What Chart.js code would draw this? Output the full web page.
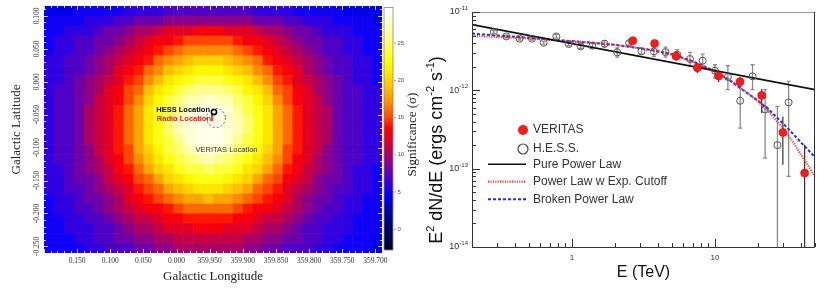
<!DOCTYPE html>
<html>
<head>
<meta charset="utf-8">
<title>Galactic Centre - significance map and spectrum</title>
<script src="https://cdn.jsdelivr.net/npm/chart.js@4.4.1/dist/chart.umd.min.js"></script>
<style>
  body { margin: 0; background: #ffffff; }
  #mapChart { position: absolute; left: 0; top: 0; }
  #sedChart { position: absolute; left: 420px; top: 0; }
</style>
</head>
<body>
<canvas id="mapChart" width="420" height="291"></canvas>
<canvas id="sedChart" width="410" height="291"></canvas>
<script>
"use strict";

/* ---------- left panel: significance map ---------- */

// tick values (longitude is stored as l - 360 for the 359.xxx side)
const lonTicks = [0.15, 0.10, 0.05, 0.00, -0.05, -0.10, -0.15, -0.20, -0.25, -0.30];
const lonTickLabels = ["0.150", "0.100", "0.050", "0.000", "359.950", "359.900", "359.850", "359.800", "359.750", "359.700"];
const latTicks = [0.10, 0.05, 0.00, -0.05, -0.10, -0.15, -0.20, -0.25];
const latTickLabels = ["0.100", "0.050", "0.000", "-0.050", "-0.100", "-0.150", "-0.200", "-0.250"];
const sigmaTicks = [0, 5, 10, 15, 20, 25];

// map grid: first bin edge and bin width in degrees
const mapLonStart = 0.2;
const mapLatStart = 0.115;
const mapBin = 0.015;

// significance per bin, top row first, left column first
const sigmaMap = [
  [4,4,4,5,5,5,5,5,6,6,6,6,7,7,7,7,7,7,7,7,7,6,6,6,6,5,5,5,5,5,4,4,4,4],
  [5,5,5,5,6,6,6,7,7,8,8,8,9,9,9,9,9,9,9,9,9,8,8,8,7,7,6,6,6,5,5,5,5,4],
  [5,5,6,6,6,7,8,8,9,10,10,11,12,12,12,13,13,13,12,12,12,11,10,10,9,8,8,7,6,6,6,5,5,5],
  [5,6,6,7,7,8,8,9,10,11,12,13,13,14,15,15,15,15,15,14,13,13,12,11,10,9,8,8,7,7,6,6,5,5],
  [5,6,6,7,7,8,9,10,11,12,13,14,15,16,17,17,17,17,17,16,15,14,13,12,11,10,9,8,7,7,6,6,5,5],
  [6,6,7,7,8,9,10,11,12,13,14,16,17,18,19,20,20,20,19,18,17,16,14,13,12,11,10,9,8,7,7,6,6,5],
  [6,6,7,7,8,9,10,12,13,14,16,17,19,20,21,22,22,22,21,20,19,17,16,14,13,12,10,9,8,7,7,6,6,5],
  [6,6,7,8,9,10,11,12,14,15,17,19,21,22,23,24,24,24,23,22,21,19,17,15,14,12,11,10,9,8,7,6,6,5],
  [6,7,7,8,9,10,12,13,15,16,19,21,22,24,25,26,26,26,25,24,22,21,19,16,15,13,12,10,9,8,7,7,6,6],
  [6,7,7,8,9,11,12,13,15,17,20,22,24,25,27,27,28,27,27,25,24,22,20,17,15,13,12,11,9,8,7,7,6,6],
  [6,7,7,8,10,11,12,14,16,18,21,23,24,26,28,29,29,29,28,26,24,23,21,18,16,14,12,11,10,8,7,7,6,6],
  [6,7,7,8,10,11,12,14,16,18,21,23,25,27,28,29,29,29,28,27,25,23,21,18,16,14,12,11,10,8,7,7,6,6],
  [6,7,7,8,10,11,12,14,16,18,21,23,25,27,28,29,29,29,28,27,25,23,21,18,16,14,12,11,10,8,7,7,6,6],
  [6,7,7,8,10,11,12,14,16,18,21,23,24,26,28,29,29,29,28,26,24,23,21,18,16,14,12,11,10,8,7,7,6,6],
  [6,7,7,8,9,11,12,14,15,18,20,22,24,25,27,28,28,28,27,25,24,22,20,18,15,14,12,11,9,8,7,7,6,6],
  [6,7,7,8,9,10,12,13,15,17,19,21,23,24,25,26,27,26,25,24,23,21,19,17,15,13,12,10,9,8,7,7,6,6],
  [6,6,7,8,9,10,11,13,14,16,18,20,21,23,24,24,25,24,24,23,21,20,18,16,14,13,11,10,9,8,7,6,6,5],
  [6,6,7,8,8,9,11,12,13,15,16,18,20,21,22,23,23,23,22,21,20,18,16,15,13,12,11,9,8,8,7,6,6,5],
  [6,6,7,7,8,9,10,11,12,14,15,16,18,19,20,21,21,21,20,19,18,16,15,14,12,11,10,9,8,7,7,6,6,5],
  [5,6,6,7,8,8,9,10,12,13,14,15,16,17,18,18,19,18,18,17,16,15,14,13,12,10,9,8,8,7,6,6,5,5],
  [5,6,6,7,7,8,9,10,11,12,13,13,14,15,16,16,16,16,16,15,14,13,13,12,11,10,9,8,7,7,6,6,5,5],
  [5,5,6,6,7,7,8,9,10,11,11,12,13,13,14,14,14,14,14,13,13,12,11,11,10,9,8,7,7,6,6,5,5,5],
  [5,5,6,6,6,7,7,8,9,10,10,11,12,12,12,13,13,13,12,12,12,11,10,10,9,8,7,7,6,6,6,5,5,5],
  [5,5,5,6,6,7,7,8,8,9,9,10,10,11,11,11,11,11,11,11,10,10,9,9,8,8,7,7,6,6,5,5,5,4],
  [5,5,5,5,6,6,7,7,7,8,8,9,9,10,10,10,10,10,10,10,9,9,8,8,7,7,7,6,6,5,5,5,5,4]
];

// source positions (lon as l - 360, lat) and label anchors
const hessPos = { x: -0.0565, y: -0.046 };
const radioPos = { x: -0.0535, y: -0.0535 };
const veritasPos = { x: -0.0595, y: -0.055 };
const veritasRadius = 0.0143;
const hessLabelPos = { x: -0.0505, y: -0.043 };
const radioLabelPos = { x: -0.052, y: -0.0566 };
const veritasLabelPos = { x: -0.0754, y: -0.1036 };

// colour palette of the map
const palValues = [-2.8, 0, 2.5, 4.5, 6, 8, 10, 12, 13.5, 15, 17, 19, 21, 22.5, 25, 27, 29.8];
const palColors = [[0,0,40],[0,0,96],[0,0,170],[0,0,255],[48,0,224],[110,0,170],[170,0,100],[225,0,35],
                   [255,0,0],[255,70,0],[255,140,0],[255,190,0],[255,230,0],[255,255,0],[255,255,110],
                   [255,255,180],[255,255,255]];

/* ---------- right panel: spectrum ---------- */

const hessE  = [0.284, 0.347, 0.430, 0.525, 0.634, 0.777, 0.948, 1.15, 1.39, 1.69, 2.07, 2.51, 3.06,
                3.74, 4.51, 5.45, 6.68, 8.20, 10.0, 12.3, 15.0, 18.3, 22.4, 27.3, 32.7];
const hessF  = [5.55e-12, 4.88e-12, 4.56e-12, 4.56e-12, 4.06e-12, 4.88e-12, 3.90e-12, 3.64e-12, 3.71e-12,
                3.94e-12, 3.05e-12, 4.02e-12, 3.14e-12, 3.14e-12, 3.08e-12, 2.85e-12, 2.51e-12, 2.39e-12,
                1.78e-12, 1.48e-12, 7.36e-13, 1.51e-12, 5.71e-13, 2.00e-13, 7.01e-13];
const hessLo = [5.33e-12, 4.70e-12, 4.39e-12, 4.39e-12, 3.90e-12, 4.65e-12, 3.71e-12, 3.43e-12, 3.47e-12,
                3.57e-12, 2.66e-12, 3.79e-12, 2.90e-12, 2.71e-12, 2.66e-12, 2.46e-12, 2.06e-12, 1.96e-12,
                1.43e-12, 1.02e-12, 3.30e-13, 1.02e-12, 1.36e-13, 1e-15, 7.96e-14];
const hessHi = [5.77e-12, 5.08e-12, 4.74e-12, 4.79e-12, 4.22e-12, 5.18e-12, 4.10e-12, 3.90e-12, 4.02e-12,
                4.30e-12, 3.47e-12, 4.26e-12, 3.43e-12, 3.60e-12, 3.57e-12, 3.30e-12, 3.05e-12, 2.90e-12,
                2.12e-12, 2.06e-12, 1.12e-12, 2.12e-12, 1.02e-12, 6.24e-13, 1.30e-12];

const verE  = [2.66, 3.78, 5.33, 7.52, 10.6, 14.96, 21.2, 29.8, 42.3];
const verF  = [4.30e-12, 3.97e-12, 2.74e-12, 1.94e-12, 1.52e-12, 1.29e-12, 8.62e-13, 2.90e-13, 8.78e-14];
const verLo = [3.94e-12, 3.64e-12, 2.39e-12, 1.66e-12, 1.275e-12, 1.10e-12, 5.12e-13, 1.12e-13, 1e-15];
const verHi = [4.65e-12, 4.30e-12, 3.14e-12, 2.23e-12, 1.80e-12, 1.48e-12, 1.04e-12, 4.65e-13, 2.02e-13];

const pplE = [0.2, 50];
const pplF = [6.9e-12, 1.02e-12];

const ecplE = [0.2, 0.3, 0.5, 0.7, 1, 1.5, 2, 3, 4, 5, 7, 10, 13, 16, 20, 25, 30, 35, 40, 45, 50];
const ecplF = [4.95e-12, 4.8e-12, 4.6e-12, 4.4e-12, 4.2e-12, 4.0e-12, 3.8e-12, 3.45e-12, 3.15e-12, 2.85e-12,
               2.3e-12, 1.72e-12, 1.3e-12, 1.0e-12, 7.2e-13, 4.8e-13, 3.25e-13, 2.2e-13, 1.5e-13, 1.08e-13, 7.9e-14];

const bplE = [0.2, 0.3, 0.5, 0.7, 1, 1.5, 2, 3, 4, 5, 7, 10, 13, 16, 20, 25, 30, 35, 40, 45, 50];
const bplF = [5.3e-12, 5.0e-12, 4.7e-12, 4.45e-12, 4.25e-12, 4.0e-12, 3.8e-12, 3.45e-12, 3.15e-12, 2.9e-12,
              2.35e-12, 1.75e-12, 1.3e-12, 9.8e-13, 7.4e-13, 5.2e-13, 3.75e-13, 2.8e-13, 2.15e-13, 1.72e-13, 1.4e-13];

const sedXTicks = [1, 10];
const sedXTickLabels = ["1", "10"];
const sedYTickExps = [-14, -13, -12, -11];
const legendLabels = ["VERITAS", "H.E.S.S.", "Pure Power Law", "Power Law w Exp. Cutoff", "Broken Power Law"];


function rgbText(c) {
    return "rgb(" + c[0] + "," + c[1] + "," + c[2] + ")";
}

function sigColor(v) {
    let last = palValues.length - 1;
    if (v <= palValues[0]) return rgbText(palColors[0]);
    for (let k = 1; k <= last; k++) {
        if (v <= palValues[k]) {
            let t = (v - palValues[k - 1]) / (palValues[k] - palValues[k - 1]);
            let a = palColors[k - 1], b = palColors[k];
            return rgbText([0, 1, 2].map(n => Math.round(a[n] + (b[n] - a[n]) * t)));
        }
    }
    return rgbText(palColors[last]);
}

function toPoints(xs, ys) {
    return xs.map((x, i) => ({ x: x, y: ys[i] }));
}

// draws the map bins behind everything else
const heatCells = {
    id: "heatCells",
    beforeDatasetsDraw(chart) {
        const ctx = chart.ctx;
        const ca = chart.chartArea;
        const xs = chart.scales.x;
        const ys = chart.scales.y;
        ctx.save();
        ctx.beginPath();
        ctx.rect(ca.left, ca.top, ca.right - ca.left, ca.bottom - ca.top);
        ctx.clip();
        for (let i = 0; i < sigmaMap.length; i++) {
            for (let j = 0; j < sigmaMap[i].length; j++) {
                let x0 = xs.getPixelForValue(mapLonStart - j * mapBin);
                let x1 = xs.getPixelForValue(mapLonStart - (j + 1) * mapBin);
                let y0 = ys.getPixelForValue(mapLatStart - i * mapBin);
                let y1 = ys.getPixelForValue(mapLatStart - (i + 1) * mapBin);
                ctx.fillStyle = sigColor(sigmaMap[i][j]);
                ctx.fillRect(x0, y0, x1 - x0 + 0.6, y1 - y0 + 0.6);
            }
        }
        ctx.restore();
    }
};

// inner ticks, rotated latitude labels, colour bar and source labels
const mapDecor = {
    id: "mapDecor",
    afterDraw(chart) {
        const ctx = chart.ctx;
        const ca = chart.chartArea;
        const xs = chart.scales.x;
        const ys = chart.scales.y;
        const sc = chart.scales.sig;
        ctx.save();

        ctx.strokeStyle = "rgba(225,228,255,0.9)";
        ctx.lineWidth = 1;
        ctx.beginPath();
        for (let k = -31; k <= 20; k++) {
            let px = Math.round(xs.getPixelForValue(k / 100)) + 0.5;
            let len = (k % 5 === 0) ? 4 : 2;
            ctx.moveTo(px, ca.bottom); ctx.lineTo(px, ca.bottom - len);
            ctx.moveTo(px, ca.top); ctx.lineTo(px, ca.top + len);
        }
        for (let k = -26; k <= 11; k++) {
            let py = Math.round(ys.getPixelForValue(k / 100)) + 0.5;
            let len = (k % 5 === 0) ? 4 : 2;
            ctx.moveTo(ca.left, py); ctx.lineTo(ca.left + len, py);
            ctx.moveTo(ca.right, py); ctx.lineTo(ca.right - len, py);
        }
        ctx.stroke();

        // latitude labels, written upwards
        ctx.fillStyle = "#333";
        ctx.font = "7.5px 'Liberation Serif'";
        ctx.textAlign = "center";
        ctx.textBaseline = "middle";
        latTicks.forEach((v, i) => {
            ctx.save();
            ctx.translate(ca.left - 6.5, ys.getPixelForValue(v));
            ctx.rotate(-Math.PI / 2);
            ctx.fillText(latTickLabels[i], 0, 0);
            ctx.restore();
        });

        // colour bar
        let last = palValues.length - 1;
        let cTop = sc.getPixelForValue(palValues[last]);
        let cBot = sc.getPixelForValue(palValues[0]);
        let cx0 = ca.right + 2, cw = 9;
        let grad = ctx.createLinearGradient(0, cBot, 0, cTop);
        palValues.forEach((v, k) => {
            grad.addColorStop((v - palValues[0]) / (palValues[last] - palValues[0]), rgbText(palColors[k]));
        });
        ctx.fillStyle = grad;
        ctx.fillRect(cx0, cTop, cw, cBot - cTop);
        ctx.strokeStyle = "#888";
        ctx.lineWidth = 0.8;
        ctx.strokeRect(cx0, cTop, cw, cBot - cTop);
        ctx.font = "6px 'Liberation Sans'";
        ctx.fillStyle = "#555";
        ctx.textAlign = "left";
        sigmaTicks.forEach(v => {
            let py = sc.getPixelForValue(v);
            ctx.beginPath();
            ctx.moveTo(cx0 + cw + 1, py);
            ctx.lineTo(cx0 + cw + 3, py);
            ctx.stroke();
            ctx.fillText(String(v), cx0 + cw + 4.5, py);
        });
        ctx.save();
        ctx.translate(ca.right + 31, (ca.top + ca.bottom) / 2 + 5);
        ctx.rotate(-Math.PI / 2);
        ctx.font = "13px 'Liberation Serif'";
        ctx.fillStyle = "#222";
        ctx.textAlign = "center";
        ctx.fillText("Significance (\u03c3)", 0, 0);
        ctx.restore();

        // source labels and VERITAS error circle
        ctx.textBaseline = "middle";
        ctx.font = "bold 7.5px 'Liberation Sans'";
        ctx.textAlign = "right";
        ctx.fillStyle = "#000";
        ctx.fillText("HESS Location", xs.getPixelForValue(hessLabelPos.x), ys.getPixelForValue(hessLabelPos.y));
        ctx.fillStyle = "#ff1010";
        ctx.fillText("Radio Location", xs.getPixelForValue(radioLabelPos.x), ys.getPixelForValue(radioLabelPos.y));
        ctx.font = "7.5px 'Liberation Sans'";
        ctx.textAlign = "center";
        ctx.fillStyle = "#333";
        ctx.fillText("VERITAS Location", xs.getPixelForValue(veritasLabelPos.x), ys.getPixelForValue(veritasLabelPos.y));

        let vx = xs.getPixelForValue(veritasPos.x);
        let vy = ys.getPixelForValue(veritasPos.y);
        let vr = Math.abs(xs.getPixelForValue(veritasPos.x + veritasRadius) - vx);
        ctx.setLineDash([2, 2]);
        ctx.strokeStyle = "#555";
        ctx.lineWidth = 0.9;
        ctx.beginPath();
        ctx.arc(vx, vy, vr, 0, 2 * Math.PI);
        ctx.stroke();
        ctx.restore();
    }
};

new Chart(document.getElementById("mapChart"), {
    type: "scatter",
    data: {
        datasets: [
            { label: "HESS Location", data: [hessPos], pointRadius: 2.6, pointBorderWidth: 1.6,
              pointBorderColor: "#000", pointBackgroundColor: "rgba(255,255,255,0.5)" },
            { label: "Radio Location", data: [radioPos], pointStyle: "line", pointRotation: 90,
              pointRadius: 4, pointBorderWidth: 1.6, pointBorderColor: "#ff1010" }
        ]
    },
    options: {
        responsive: false,
        animation: false,
        events: [],
        layout: { padding: { top: 6, left: 0, right: 0, bottom: 0 } },
        plugins: { legend: { display: false }, tooltip: { enabled: false } },
        scales: {
            x: {
                type: "linear", reverse: true, min: -0.31, max: 0.2,
                afterFit(s) { s.height = 38; },
                afterBuildTicks(s) { s.ticks = lonTicks.map(v => ({ value: v })); },
                ticks: { callback: (v, i) => lonTickLabels[i], autoSkip: false, maxRotation: 0,
                         font: { family: "Liberation Serif", size: 7.5 }, color: "#333", padding: 3.5 },
                grid: { display: false, drawTicks: false },
                border: { display: false },
                title: { display: true, text: "Galactic Longitude", color: "#222",
                         font: { family: "Liberation Serif", size: 13 }, padding: { top: 0, bottom: 7 } }
            },
            y: {
                type: "linear", min: -0.26, max: 0.115,
                afterFit(s) { s.width = 44; },
                ticks: { display: false },
                grid: { display: false, drawTicks: false },
                border: { display: false },
                title: { display: true, text: "Galactic Latitude", color: "#222",
                         font: { family: "Liberation Serif", size: 13 }, padding: { top: 9, bottom: 0 } }
            },
            sig: {
                type: "linear", position: "right", min: -3.2, max: 30,
                afterFit(s) { s.width = 38; },
                ticks: { display: false },
                grid: { display: false, drawTicks: false },
                border: { display: false }
            }
        }
    },
    plugins: [heatCells, mapDecor]
});


/* ---------- spectrum chart ---------- */

function drawBars(chart, es, lo, hi, color, width, cap) {
    const ctx = chart.ctx;
    const xs = chart.scales.x;
    const ys = chart.scales.y;
    ctx.strokeStyle = color;
    ctx.lineWidth = width;
    ctx.beginPath();
    for (let i = 0; i < es.length; i++) {
        let px = xs.getPixelForValue(es[i]);
        let pLo = ys.getPixelForValue(lo[i]);
        let pHi = ys.getPixelForValue(hi[i]);
        ctx.moveTo(px, pLo);
        ctx.lineTo(px, pHi);
        if (cap > 0) {
            ctx.moveTo(px - cap, pHi); ctx.lineTo(px + cap, pHi);
            ctx.moveTo(px - cap, pLo); ctx.lineTo(px + cap, pLo);
        }
    }
    ctx.stroke();
}

const errBars = {
    id: "errBars",
    beforeDatasetsDraw(chart) {
        const ctx = chart.ctx;
        const ca = chart.chartArea;
        ctx.save();
        ctx.beginPath();
        ctx.rect(ca.left, ca.top, ca.right - ca.left, ca.bottom - ca.top);
        ctx.clip();
        drawBars(chart, hessE, hessLo, hessHi, "#8c8c8c", 1.3, 2);
        drawBars(chart, verE, verLo, verHi, "#333", 1.2, 0);
        ctx.restore();
    }
};

const sedDecor = {
    id: "sedDecor",
    afterDraw(chart) {
        const ctx = chart.ctx;
        const ca = chart.chartArea;
        const xs = chart.scales.x;
        const ys = chart.scales.y;
        ctx.save();

        // frame
        ctx.lineWidth = 1;
        ctx.strokeStyle = "#9a9a9a";
        ctx.beginPath();
        ctx.moveTo(ca.left, ca.top + 0.5); ctx.lineTo(ca.right, ca.top + 0.5);
        ctx.stroke();
        ctx.strokeStyle = "#333";
        ctx.beginPath();
        ctx.moveTo(ca.left + 0.5, ca.top); ctx.lineTo(ca.left + 0.5, ca.bottom + 0.5);
        ctx.lineTo(ca.right - 0.5, ca.bottom + 0.5); ctx.lineTo(ca.right - 0.5, ca.top);
        ctx.stroke();

        // ticks inside the frame
        ctx.beginPath();
        for (let d = -1; d <= 1; d++) {
            for (let m = 1; m <= 9; m++) {
                let v = m * Math.pow(10, d);
                if (v < 0.2 - 1e-9 || v > 50 + 1e-9) continue;
                let px = Math.round(xs.getPixelForValue(v)) + 0.5;
                let len = (m === 1) ? 8 : 4;
                ctx.moveTo(px, ca.bottom); ctx.lineTo(px, ca.bottom - len);
            }
        }
        for (let d = -14; d <= -11; d++) {
            for (let m = 1; m <= 9; m++) {
                if (d === -11 && m > 1) continue;
                let py = Math.round(ys.getPixelForValue(m * Math.pow(10, d))) + 0.5;
                let len = (m === 1) ? 8 : 4;
                ctx.moveTo(ca.left, py); ctx.lineTo(ca.left + len, py);
            }
        }
        ctx.stroke();

        // y tick labels 10^n
        ctx.fillStyle = "#333";
        ctx.textBaseline = "middle";
        sedYTickExps.forEach(n => {
            let py = ys.getPixelForValue(Math.pow(10, n));
            ctx.font = "6px 'Liberation Sans'";
            let wSup = ctx.measureText(String(n)).width;
            ctx.textAlign = "left";
            ctx.fillText(String(n), ca.left - 4 - wSup, py - 3.5);
            ctx.font = "9px 'Liberation Sans'";
            ctx.textAlign = "right";
            ctx.fillText("10", ca.left - 4 - wSup, py);
        });

        // y title with superscripts
        const pieces = [["E", false], ["2", true], [" dN/dE (ergs cm", false], ["-2", true],
                        [" s", false], ["-1", true], [")", false]];
        const mainFont = "18px 'Liberation Sans'";
        const supFont = "11px 'Liberation Sans'";
        let total = 0;
        pieces.forEach(p => { ctx.font = p[1] ? supFont : mainFont; total += ctx.measureText(p[0]).width; });
        ctx.save();
        ctx.translate(17, 150);
        ctx.rotate(-Math.PI / 2);
        ctx.fillStyle = "#111";
        ctx.textAlign = "left";
        let cx = -total / 2;
        pieces.forEach(p => {
            ctx.font = p[1] ? supFont : mainFont;
            ctx.fillText(p[0], cx, p[1] ? -6 : 0);
            cx += ctx.measureText(p[0]).width;
        });
        ctx.restore();

        // legend inside the plot
        const ds = chart.data.datasets;
        const rowY = [118, 137, 152.3, 169.7, 187.3];
        ctx.font = "12px 'Liberation Sans'";
        ctx.textAlign = "left";
        ctx.fillStyle = "#333";
        legendLabels.forEach((lab, k) => {
            let y = ca.top + rowY[k];
            if (k === 0) {
                ctx.beginPath();
                ctx.arc(ca.left + 51, y, 5, 0, 2 * Math.PI);
                ctx.fillStyle = ds[0].pointBackgroundColor;
                ctx.fill();
            } else if (k === 1) {
                ctx.beginPath();
                ctx.arc(ca.left + 51, y, 5, 0, 2 * Math.PI);
                ctx.strokeStyle = "#444";
                ctx.lineWidth = 1.2;
                ctx.setLineDash([]);
                ctx.stroke();
            } else {
                ctx.beginPath();
                ctx.strokeStyle = ds[k].borderColor;
                ctx.lineWidth = ds[k].borderWidth;
                ctx.setLineDash(ds[k].borderDash || []);
                ctx.moveTo(ca.left + 16, y);
                ctx.lineTo(ca.left + 54, y);
                ctx.stroke();
                ctx.setLineDash([]);
            }
            ctx.fillStyle = "#333";
            ctx.fillText(lab, ca.left + 61, y);
        });
        ctx.restore();
    }
};

new Chart(document.getElementById("sedChart"), {
    type: "scatter",
    data: {
        datasets: [
            { label: legendLabels[0], data: toPoints(verE, verF), pointRadius: 4,
              pointBackgroundColor: "#ff1a1a", pointBorderColor: "#e00000", pointBorderWidth: 0.6 },
            { label: legendLabels[1], data: toPoints(hessE, hessF), pointRadius: 3.5,
              pointBackgroundColor: "rgba(255,255,255,0)", pointBorderColor: "#555", pointBorderWidth: 1 },
            { label: legendLabels[2], data: toPoints(pplE, pplF), showLine: true, pointRadius: 0,
              borderColor: "#111", borderWidth: 1.6 },
            { label: legendLabels[3], data: toPoints(ecplE, ecplF), showLine: true, pointRadius: 0,
              borderColor: "rgba(255,45,45,0.9)", borderWidth: 2.2, borderDash: [1.2, 1.2] },
            { label: legendLabels[4], data: toPoints(bplE, bplF), showLine: true, pointRadius: 0,
              borderColor: "#1a2cff", borderWidth: 2, borderDash: [3, 2] }
        ]
    },
    options: {
        responsive: false,
        animation: false,
        events: [],
        layout: { padding: { top: 12, right: 15, left: 0, bottom: 0 } },
        plugins: { legend: { display: false }, tooltip: { enabled: false } },
        scales: {
            x: {
                type: "logarithmic", min: 0.2, max: 50,
                afterFit(s) { s.height = 44; },
                afterBuildTicks(s) { s.ticks = sedXTicks.map(v => ({ value: v })); },
                ticks: { callback: (v, i) => sedXTickLabels[i], autoSkip: false, maxRotation: 0,
                         font: { family: "Liberation Sans", size: 8 }, color: "#333", padding: 6 },
                grid: { display: false, drawTicks: false },
                border: { display: false },
                title: { display: true, text: "E (TeV)", color: "#111",
                         font: { family: "Liberation Sans", size: 16 }, padding: { top: 0, bottom: 9 } }
            },
            y: {
                type: "logarithmic", min: 1e-14, max: 1e-11,
                afterFit(s) { s.width = 52; },
                ticks: { display: false },
                grid: { display: false, drawTicks: false },
                border: { display: false }
            }
        }
    },
    plugins: [errBars, sedDecor]
});
</script>
</body>
</html>
